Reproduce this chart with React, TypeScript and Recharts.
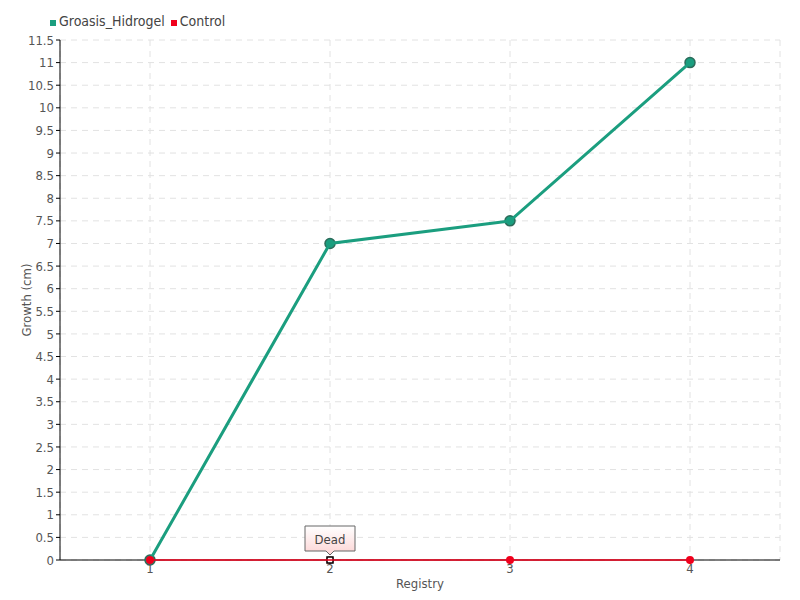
import { LineChart, Line, XAxis, YAxis, CartesianGrid } from "recharts";

const registries = ["1", "2", "3", "4"];
const groasisHidrogel = [0, 7, 7.5, 11];
const control = [0, 0, 0, 0];
const controlNotes = ["", "Dead", "", ""];
const yTicks = [
  0, 0.5, 1, 1.5, 2, 2.5, 3, 3.5, 4, 4.5, 5, 5.5, 6, 6.5, 7, 7.5, 8, 8.5, 9,
  9.5, 10, 10.5, 11, 11.5,
];

const data = registries.map((r, i) => ({
  registry: r,
  groasis: groasisHidrogel[i],
  control: control[i],
  note: controlNotes[i],
}));

const FONT = "'Liberation Sans Narrow', 'DejaVu Sans Condensed', 'Roboto Condensed', sans-serif";
const TEAL = "#1b9e7f";
const RED = "#f0001c";

const ControlDot = (props: any) => {
  const { cx, cy, payload, index } = props;
  if (payload.note) {
    return (
      <g key={`cd-${index}`}>
        <defs>
          <linearGradient id="noteGrad" x1="0" y1="0" x2="0" y2="1">
            <stop offset="0%" stopColor="#ffffff" />
            <stop offset="100%" stopColor="#fcd4d4" />
          </linearGradient>
        </defs>
        <circle cx={cx} cy={cy} r={4} fill={RED} fillOpacity={0.5} />
        <rect x={cx - 3} y={cy - 3} width={6} height={6} fill="#fff" stroke="#000" strokeWidth={1.5} />
        <path
          d={`M${cx - 25},${cy - 34} h50 v25 h-21 l-4,4 l-4,-4 h-21 z`}
          fill="url(#noteGrad)"
          stroke="#666"
          strokeWidth={1}
        />
        <text x={cx} y={cy - 16} textAnchor="middle" fontSize={13} fill="#444" fontFamily={FONT}>
          {payload.note}
        </text>
      </g>
    );
  }
  return <circle key={`cd-${index}`} cx={cx} cy={cy} r={4} fill={RED} />;
};

const Legend = () => (
  <div
    style={{
      position: "absolute",
      left: 50,
      top: 13,
      display: "flex",
      alignItems: "center",
      gap: 6,
      fontFamily: FONT,
      fontSize: 14,
      color: "#444",
    }}
  >
    <span style={{ display: "flex", alignItems: "center", gap: 3 }}>
      <span style={{ width: 6, height: 6, background: TEAL, display: "inline-block", marginTop: 4 }} />
      Groasis_Hidrogel
    </span>
    <span style={{ display: "flex", alignItems: "center", gap: 3 }}>
      <span style={{ width: 6, height: 6, background: RED, display: "inline-block", marginTop: 4 }} />
      Control
    </span>
  </div>
);

export default function App() {
  return (
    <div style={{ position: "relative", width: 800, height: 600, margin: -8, background: "#fff" }}>
      <Legend />
      <LineChart
        width={800}
        height={600}
        data={data}
        margin={{ top: 40, right: 20, left: 10, bottom: 0 }}
      >
        <CartesianGrid stroke="#e2e2e2" strokeDasharray="6 5" />
        <XAxis
          dataKey="registry"
          height={40}
          padding={{ left: 90, right: 90 }}
          stroke="#000"
          tickSize={4}
          tickMargin={0}
          tick={{ fontSize: 13, fill: "#555", fontFamily: FONT }}
          label={{
            value: "Registry",
            position: "insideBottom",
            offset: 12,
            fontSize: 13,
            fill: "#555",
            fontFamily: FONT,
          }}
        />
        <YAxis
          width={50}
          domain={[0, 11.5]}
          ticks={yTicks}
          interval={0}
          stroke="#000"
          tickSize={4}
          tickMargin={2}
          tick={{ fontSize: 13, fill: "#555", fontFamily: FONT }}
          label={{
            value: "Growth (cm)",
            angle: -90,
            position: "insideLeft",
            offset: 16,
            fontSize: 13,
            fill: "#555",
            fontFamily: FONT,
            style: { textAnchor: "middle" },
          }}
        />
        <Line
          dataKey="groasis"
          type="linear"
          stroke={TEAL}
          strokeWidth={3}
          dot={{ r: 5, fill: TEAL, stroke: "#2c6b5a", strokeWidth: 1.5 }}
          isAnimationActive={false}
          zIndex={600}
        />
        <Line
          dataKey="control"
          type="linear"
          stroke={RED}
          strokeWidth={1.5}
          dot={ControlDot}
          isAnimationActive={false}
          zIndex={650}
        />
      </LineChart>
    </div>
  );
}
